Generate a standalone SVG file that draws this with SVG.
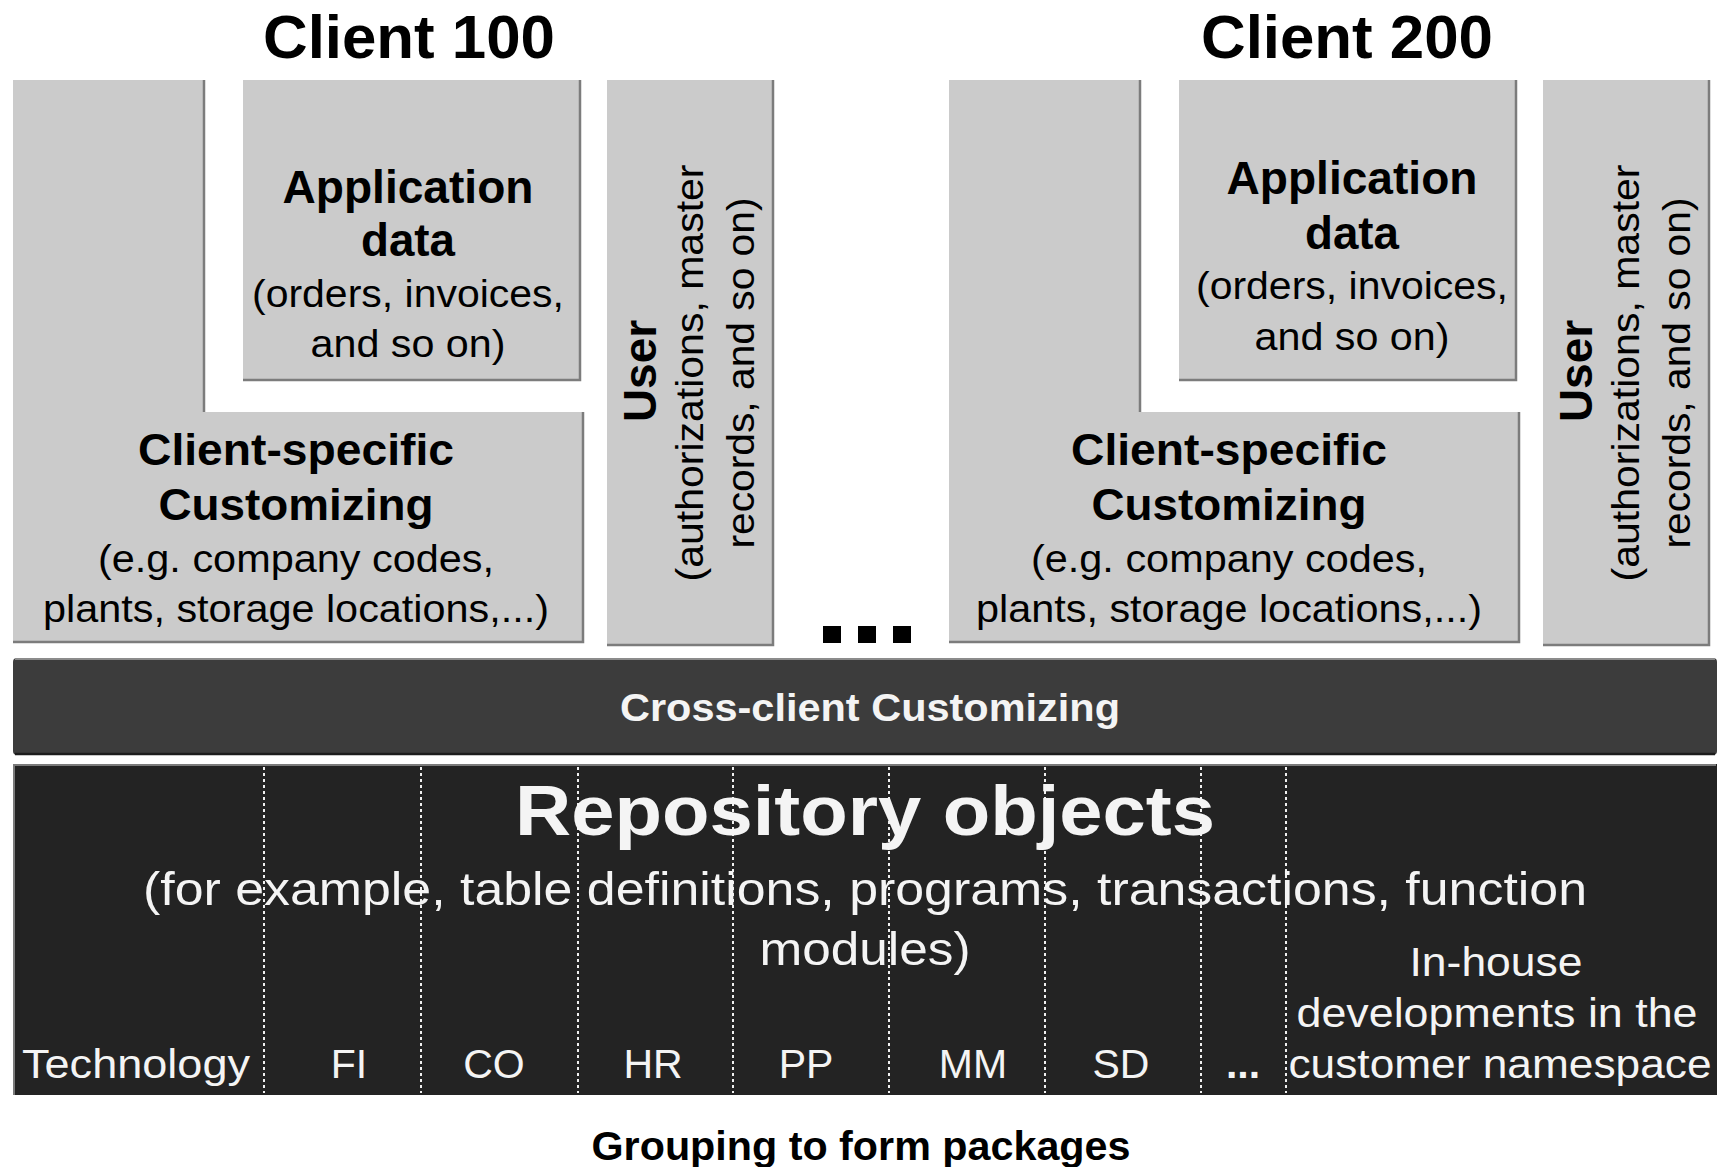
<svg xmlns="http://www.w3.org/2000/svg" width="1719" height="1167" viewBox="0 0 1719 1167">
<style>
.box{fill:#cbcbcb}
.edge{fill:none;stroke:#7c7c7c;stroke-width:2.5}
.hl{fill:none;stroke:#f4f4f4;stroke-width:1.5}
.t{font-family:"Liberation Sans",Arial,sans-serif;text-anchor:middle}
.b{font-weight:bold}
.blk{fill:#000}
.wht{fill:#f4f4f4}
.dot{stroke:#f0f0f0;stroke-width:2;stroke-dasharray:3 3}
</style>
<rect width="1719" height="1167" fill="#ffffff"/>

<g id="title-client100"><text class="t b blk" x="409" y="58" font-size="62" textLength="292" lengthAdjust="spacingAndGlyphs">Client 100</text></g>
<g id="title-client200"><text class="t b blk" x="1347" y="58" font-size="62" textLength="292" lengthAdjust="spacingAndGlyphs">Client 200</text></g>

<g id="c100-customizing">
<polygon class="box" points="13,80 204,80 204,412 583,412 583,642 13,642"/>
<polyline class="edge" points="204,80 204,412"/>
<polyline class="edge" points="583,412 583,642 13,642"/>
<text class="t b blk" x="296" y="465" font-size="45" textLength="316" lengthAdjust="spacingAndGlyphs">Client-specific</text>
<text class="t b blk" x="296" y="520" font-size="45" textLength="275" lengthAdjust="spacingAndGlyphs">Customizing</text>
<text class="t blk" x="296" y="572" font-size="38" textLength="396" lengthAdjust="spacingAndGlyphs">(e.g. company codes,</text>
<text class="t blk" x="296" y="622" font-size="38" textLength="506" lengthAdjust="spacingAndGlyphs">plants, storage locations,...)</text>
</g>
<g id="c100-appdata">
<rect class="box" x="243" y="80" width="337" height="300"/>
<polyline class="edge" points="580,80 580,380 243,380"/>
<text class="t b blk" x="408" y="203" font-size="47" textLength="251" lengthAdjust="spacingAndGlyphs">Application</text>
<text class="t b blk" x="408" y="256" font-size="47" textLength="94" lengthAdjust="spacingAndGlyphs">data</text>
<text class="t blk" x="408" y="307" font-size="38" textLength="312" lengthAdjust="spacingAndGlyphs">(orders, invoices,</text>
<text class="t blk" x="408" y="357" font-size="38" textLength="195" lengthAdjust="spacingAndGlyphs">and so on)</text>
</g>
<g id="c100-user">
<rect class="box" x="607" y="80" width="166" height="565"/>
<polyline class="edge" points="773,80 773,645 607,645"/>
<text class="t b blk" transform="translate(656,371) rotate(-90)" font-size="47" textLength="102" lengthAdjust="spacingAndGlyphs">User</text>
<text class="t blk" transform="translate(703,373) rotate(-90)" font-size="38" textLength="417" lengthAdjust="spacingAndGlyphs">(authorizations, master</text>
<text class="t blk" transform="translate(754,373) rotate(-90)" font-size="38" textLength="351" lengthAdjust="spacingAndGlyphs">records, and so on)</text>
</g>

<g id="c200-customizing">
<polygon class="box" points="949,80 1140,80 1140,412 1519,412 1519,642 949,642"/>
<polyline class="edge" points="1140,80 1140,412"/>
<polyline class="edge" points="1519,412 1519,642 949,642"/>
<text class="t b blk" x="1229" y="465" font-size="45" textLength="316" lengthAdjust="spacingAndGlyphs">Client-specific</text>
<text class="t b blk" x="1229" y="520" font-size="45" textLength="275" lengthAdjust="spacingAndGlyphs">Customizing</text>
<text class="t blk" x="1229" y="572" font-size="38" textLength="396" lengthAdjust="spacingAndGlyphs">(e.g. company codes,</text>
<text class="t blk" x="1229" y="622" font-size="38" textLength="506" lengthAdjust="spacingAndGlyphs">plants, storage locations,...)</text>
</g>
<g id="c200-appdata">
<rect class="box" x="1179" y="80" width="337" height="300"/>
<polyline class="edge" points="1516,80 1516,380 1179,380"/>
<text class="t b blk" x="1352" y="194" font-size="47" textLength="251" lengthAdjust="spacingAndGlyphs">Application</text>
<text class="t b blk" x="1352" y="249" font-size="47" textLength="94" lengthAdjust="spacingAndGlyphs">data</text>
<text class="t blk" x="1352" y="299" font-size="38" textLength="312" lengthAdjust="spacingAndGlyphs">(orders, invoices,</text>
<text class="t blk" x="1352" y="350" font-size="38" textLength="195" lengthAdjust="spacingAndGlyphs">and so on)</text>
</g>
<g id="c200-user">
<rect class="box" x="1543" y="80" width="166" height="565"/>
<polyline class="edge" points="1709,80 1709,645 1543,645"/>
<text class="t b blk" transform="translate(1592,371) rotate(-90)" font-size="47" textLength="102" lengthAdjust="spacingAndGlyphs">User</text>
<text class="t blk" transform="translate(1639,373) rotate(-90)" font-size="38" textLength="417" lengthAdjust="spacingAndGlyphs">(authorizations, master</text>
<text class="t blk" transform="translate(1690,373) rotate(-90)" font-size="38" textLength="351" lengthAdjust="spacingAndGlyphs">records, and so on)</text>
</g>

<g id="more-clients">
<rect x="823" y="626" width="18" height="17" fill="#000"/>
<rect x="858" y="626" width="18" height="17" fill="#000"/>
<rect x="893" y="626" width="18" height="17" fill="#000"/>
</g>

<g id="cross-client">
<rect x="13" y="658" width="1704" height="97" rx="4" fill="#3c3c3c"/>
<line x1="15" y1="659" x2="1715" y2="659" stroke="#8c8c8c" stroke-width="2"/>
<line x1="15" y1="754" x2="1715" y2="754" stroke="#1c1c1c" stroke-width="2.5"/>
<text class="t wht" x="870" y="721" font-size="39" font-weight="bold" textLength="500" lengthAdjust="spacingAndGlyphs">Cross-client Customizing</text>
</g>

<g id="repository">
<rect x="13" y="764" width="1704" height="331" fill="#232323"/>
<polyline points="14,1095 14,765 1716,765" fill="none" stroke="#7a7a7a" stroke-width="2"/>
<g id="package-dividers">
<line class="dot" x1="264" y1="767" x2="264" y2="1093"/>
<line class="dot" x1="421" y1="767" x2="421" y2="1093"/>
<line class="dot" x1="578" y1="767" x2="578" y2="1093"/>
<line class="dot" x1="733" y1="767" x2="733" y2="1093"/>
<line class="dot" x1="889" y1="767" x2="889" y2="1093"/>
<line class="dot" x1="1045" y1="767" x2="1045" y2="1093"/>
<line class="dot" x1="1201" y1="767" x2="1201" y2="1093"/>
<line class="dot" x1="1286" y1="767" x2="1286" y2="1093"/>
</g>
<text class="t b wht" x="865" y="835" font-size="70" textLength="700" lengthAdjust="spacingAndGlyphs">Repository objects</text>
<text class="t wht" x="865" y="905" font-size="47" textLength="1444" lengthAdjust="spacingAndGlyphs">(for example, table definitions, programs, transactions, function</text>
<text class="t wht" x="865" y="965" font-size="47" textLength="211" lengthAdjust="spacingAndGlyphs">modules)</text>
<text class="t wht" x="1496" y="976" font-size="41" textLength="173" lengthAdjust="spacingAndGlyphs">In-house</text>
<text class="t wht" x="1497" y="1027" font-size="41" textLength="401" lengthAdjust="spacingAndGlyphs">developments in the</text>
<text class="t wht" x="1500" y="1078" font-size="41" textLength="423" lengthAdjust="spacingAndGlyphs">customer namespace</text>
<text class="t wht" x="136" y="1078" font-size="41" textLength="228" lengthAdjust="spacingAndGlyphs">Technology</text>
<text class="t wht" x="349" y="1078" font-size="41">FI</text>
<text class="t wht" x="494" y="1078" font-size="41">CO</text>
<text class="t wht" x="653" y="1078" font-size="41">HR</text>
<text class="t wht" x="806" y="1078" font-size="41">PP</text>
<text class="t wht" x="973" y="1078" font-size="41">MM</text>
<text class="t wht" x="1121" y="1078" font-size="41">SD</text>
<text class="t b wht" x="1243" y="1078" font-size="41">...</text>
</g>

<g id="caption"><text class="t b blk" x="861" y="1160" font-size="41" textLength="539" lengthAdjust="spacingAndGlyphs">Grouping to form packages</text></g>
</svg>
